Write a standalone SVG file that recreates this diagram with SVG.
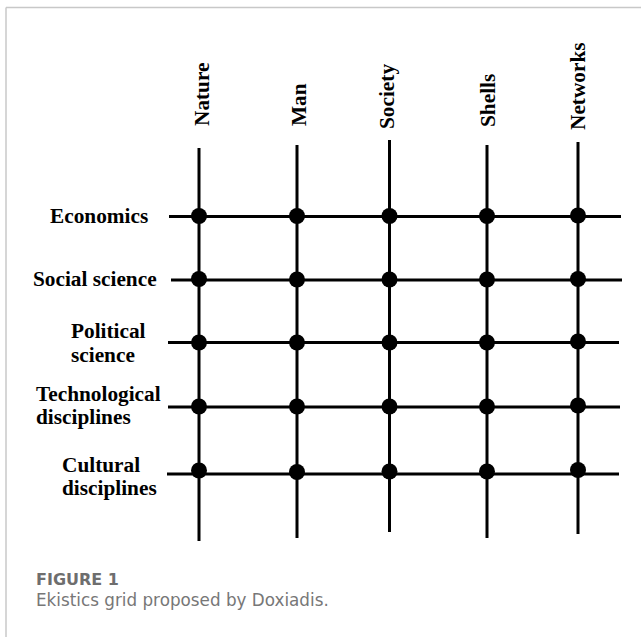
<svg xmlns="http://www.w3.org/2000/svg" width="641" height="637" viewBox="0 0 641 637">
  <style>
    .lbl { font-family: "Liberation Serif", "Times New Roman", serif; font-weight: bold; font-size: 21.3px; fill: #000; }
    .ln { stroke: #000; stroke-width: 3; fill: none; }
    .dot { fill: #000; }
    .frame { stroke: #c8c8c8; stroke-width: 1.5; fill: none; }
    .cap-title { font-family: "DejaVu Sans", "Open Sans", sans-serif; font-weight: bold; font-size: 16px; fill: #6e6e6e; }
    .cap-text { font-family: "DejaVu Sans", "Open Sans", sans-serif; font-size: 16.8px; fill: #777; }
  </style>
  <rect width="641" height="637" fill="#fff"/>
  <g id="frame">
    <line class="frame" x1="6" y1="7.5" x2="641" y2="7.5"/>
    <line class="frame" x1="6" y1="7.5" x2="6" y2="637"/>
  </g>

  <g id="connectors">
    <line class="ln" x1="199" y1="148" x2="199" y2="541"/>
    <line class="ln" x1="297" y1="145" x2="297" y2="538"/>
    <line class="ln" x1="389.5" y1="140" x2="389.5" y2="532"/>
    <line class="ln" x1="487" y1="145" x2="487" y2="538"/>
    <line class="ln" x1="578" y1="142" x2="578" y2="534"/>
    <line class="ln" x1="169" y1="216.5" x2="621" y2="216.5"/>
    <line class="ln" x1="171" y1="280" x2="622" y2="280"/>
    <line class="ln" x1="168" y1="342.5" x2="619" y2="342.5"/>
    <line class="ln" x1="168" y1="407" x2="620" y2="407"/>
    <line class="ln" x1="167" y1="474" x2="619" y2="474"/>
  </g>

  <g id="col-nature"><text class="lbl" transform="translate(209,126) rotate(-90)">Nature</text></g>
  <g id="col-man"><text class="lbl" transform="translate(306,126) rotate(-90)">Man</text></g>
  <g id="col-society"><text class="lbl" transform="translate(394,129) rotate(-90)">Society</text></g>
  <g id="col-shells"><text class="lbl" transform="translate(495,127) rotate(-90)">Shells</text></g>
  <g id="col-networks"><text class="lbl" transform="translate(585,130) rotate(-90)">Networks</text></g>

  <g id="row-economics"><text class="lbl" x="50" y="223">Economics</text></g>
  <g id="row-social-science"><text class="lbl" x="33" y="286">Social science</text></g>
  <g id="row-political-science"><text class="lbl" x="71" y="338">Political</text><text class="lbl" x="71" y="362">science</text></g>
  <g id="row-technological"><text class="lbl" x="36" y="401">Technological</text><text class="lbl" x="36" y="424">disciplines</text></g>
  <g id="row-cultural"><text class="lbl" x="62" y="472">Cultural</text><text class="lbl" x="62" y="495">disciplines</text></g>

  <g id="intersections">
    <circle class="dot" cx="199" cy="216" r="8"/><circle class="dot" cx="297" cy="216" r="8"/><circle class="dot" cx="389.5" cy="216" r="8"/><circle class="dot" cx="487" cy="216" r="8"/><circle class="dot" cx="578" cy="215.5" r="8"/>
    <circle class="dot" cx="199" cy="279" r="8"/><circle class="dot" cx="297" cy="279.5" r="8"/><circle class="dot" cx="389.5" cy="279.5" r="8"/><circle class="dot" cx="487" cy="279.5" r="8"/><circle class="dot" cx="578" cy="279" r="8"/>
    <circle class="dot" cx="199" cy="342.5" r="8"/><circle class="dot" cx="297" cy="342.5" r="8"/><circle class="dot" cx="389.5" cy="342.5" r="8"/><circle class="dot" cx="487" cy="342.5" r="8"/><circle class="dot" cx="578" cy="341.5" r="8"/>
    <circle class="dot" cx="199" cy="406.5" r="8"/><circle class="dot" cx="297" cy="406.5" r="8"/><circle class="dot" cx="389.5" cy="406.5" r="8"/><circle class="dot" cx="487" cy="406.5" r="8"/><circle class="dot" cx="578" cy="405.5" r="8"/>
    <circle class="dot" cx="199" cy="470.5" r="8"/><circle class="dot" cx="297" cy="472" r="8"/><circle class="dot" cx="389.5" cy="471.5" r="8"/><circle class="dot" cx="487" cy="471.5" r="8"/><circle class="dot" cx="578" cy="470" r="8"/>
  </g>

  <g id="caption">
    <text class="cap-title" x="36" y="585">FIGURE 1</text>
    <text class="cap-text" x="36" y="606">Ekistics grid proposed by Doxiadis.</text>
  </g>
</svg>
